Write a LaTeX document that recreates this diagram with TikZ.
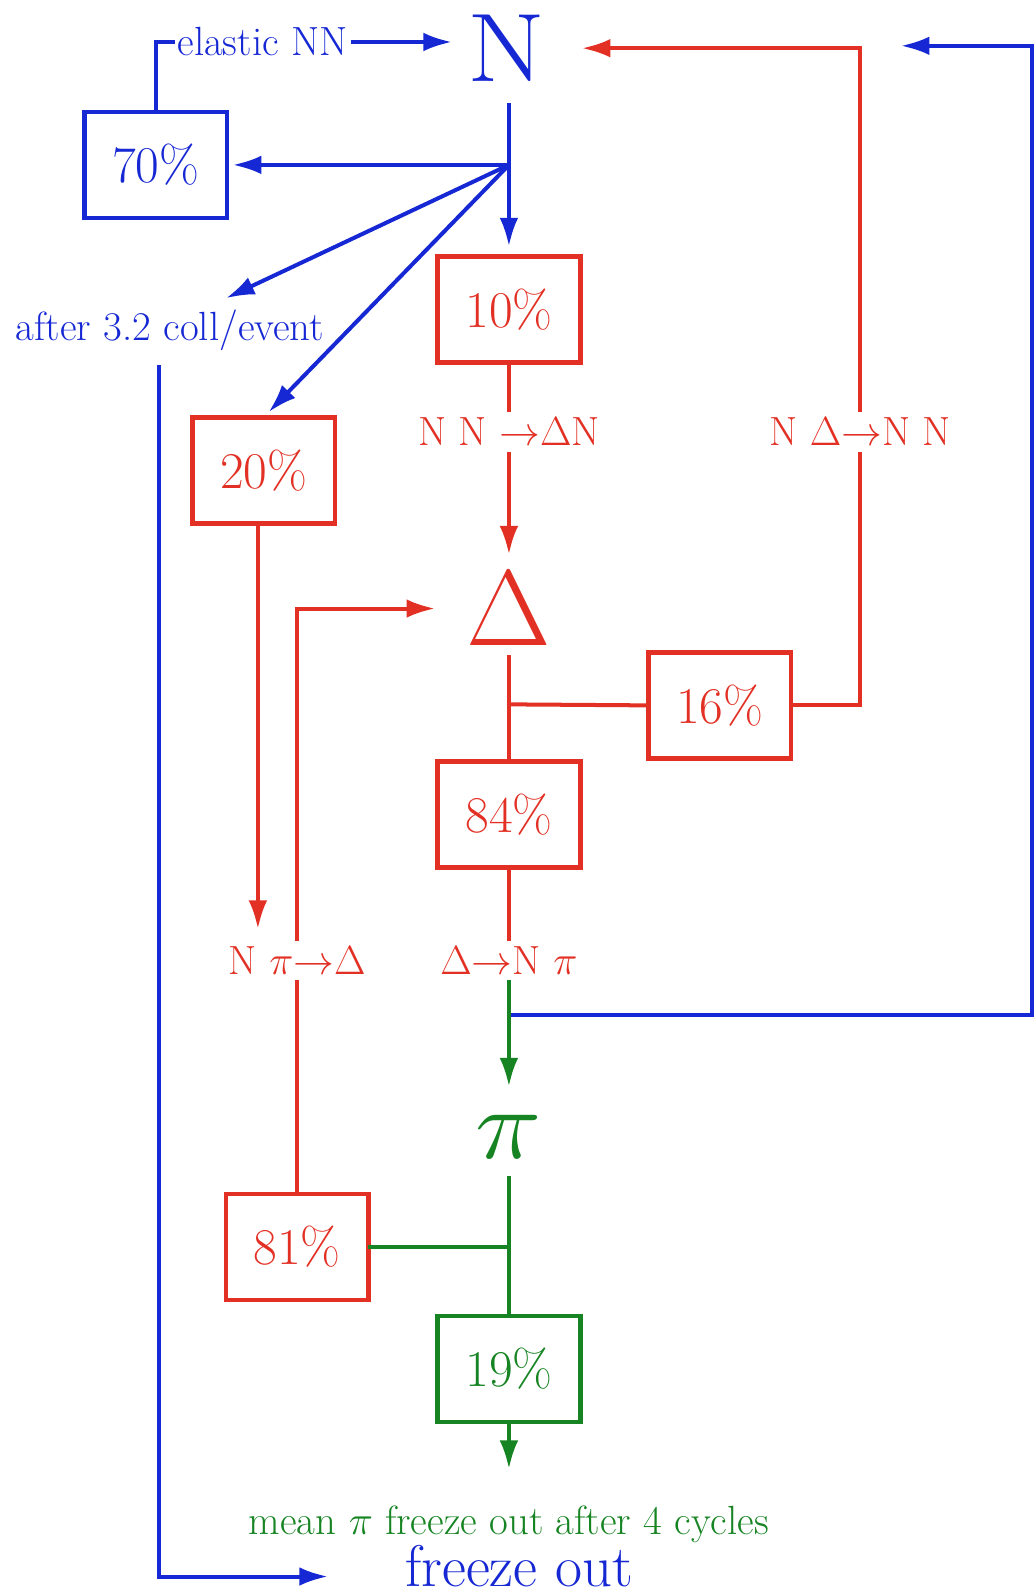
\RequirePackage{fix-cm}
\documentclass[tikz,border=0pt]{standalone}
\usepackage{graphicx}
\usetikzlibrary{arrows.meta}
\definecolor{cb}{RGB}{22,40,212}
\definecolor{cr}{RGB}{226,48,36}
\definecolor{cg}{RGB}{22,132,34}
\newcommand{\bigsymf}{\fontsize{68}{72}\selectfont}
\newcommand{\pif}{\fontsize{70}{74}\selectfont}
\newcommand{\boxf}{\fontsize{36}{40}\selectfont}
\newcommand{\lblf}{\fontsize{28.5}{32}\selectfont}
\newcommand{\fof}{\fontsize{41}{46}\selectfont}
\begin{document}
\begin{tikzpicture}[x=0.025cm,y=-0.025cm,
  every node/.style={inner sep=0pt,outer sep=0pt},
  ln/.style={line width=2.8pt},
  arr/.style={line width=2.8pt,-{Latex[length=20pt,width=13pt]}},
  box/.style={draw,line width=3.2pt,minimum width=99.6pt,minimum height=74pt,font=\boxf},
  lbl/.style={font=\lblf,inner xsep=2pt,inner ysep=4pt,anchor=base},
  bigsym/.style={font=\bigsymf,anchor=base}]
\useasboundingbox (0,0) rectangle (1016,1568);

% symbols
\node[bigsym,text=cb] (N) at (498,80) {\scalebox{1.16}[1]{N}};
\node[bigsym,font=\fontsize{66}{70}\selectfont,text=cr] (D) at (500,634) {\scalebox{1.16}[1.14]{$\Delta$}};
\node[bigsym,font=\pif,text=cg] (P) at (500,1138) {\scalebox{1.12}[1]{$\pi$}};
\node[font=\fof,text=cb,anchor=base] (fo) at (510,1559) {freeze out};

% boxes
\node[box,draw=cb,text=cb] (b70) at (153,162) {70\%};
\node[box,draw=cr,text=cr] (b10) at (500,304) {10\%};
\node[box,draw=cr,text=cr] (b20) at (259,462) {20\%};
\node[box,draw=cr,text=cr] (b16) at (707,693) {16\%};
\node[box,draw=cr,text=cr] (b84) at (500,800) {84\%};
\node[box,draw=cr,text=cr] (b81) at (292,1225) {81\%};
\node[box,draw=cg,text=cg] (b19) at (500,1345) {19\%};

% labels
\node[lbl,text=cb] (el) at (258,55) {elastic NN};
\node[lbl,text=cb] (after) at (167,335) {after 3.2 coll/event};
\node[lbl,text=cr] (nn) at (500,438) {N N ${\rightarrow}\Delta$N};
\node[lbl,text=cr] (nd) at (845,438) {N $\Delta{\rightarrow}$N N};
\node[lbl,text=cr] (npd) at (292,957) {N $\pi{\rightarrow}\Delta$};
\node[lbl,text=cr] (dn) at (500,957) {$\Delta{\rightarrow}$N $\pi$};
\node[lbl,text=cg] (mean) at (500,1508) {mean $\pi$ freeze out after 4 cycles};

% coordinates
\coordinate (s1) at (500,162);
\coordinate (t1) at (222,293);
\coordinate (j2) at (500,692);
\coordinate (j3) at (500,997);
\coordinate (j4) at (500,1225);
\coordinate (rc) at (1013.5,45);
\coordinate (t3) at (885,45);

% blue connectors
\begin{scope}[draw=cb,color=cb]
\draw[ln] (b70.north) |- (el.west);
\draw[arr,shorten >=11pt] (el.east) -- (el.east -| N.west);
\draw[ln,shorten <=15pt] (s1 |- N.south) -- (s1);
\draw[arr,shorten >=4pt] (s1) -- (b70.east);
\draw[arr,shorten >=7pt] (s1) -- (b10.north);
\draw[arr] (s1) -- (t1);
\draw[arr,shorten >=5pt] (s1) -- (b20.north);
\draw[arr,shorten <=6pt,shorten >=54pt] ([xshift=-8pt]after.south) |- ([yshift=-7pt]fo.west);
\draw[arr] (j3) -| (rc) -- (t3);
\end{scope}

% red connectors
\begin{scope}[draw=cr,color=cr]
\draw[ln] (b10.south) -- (b10.south |- nn.north);
\draw[arr,shorten >=12pt] (b10.south |- nn.south) -- (D.north);
\draw[ln,shorten <=7pt] (D.south) -- (b84.north);
\draw[ln] (j2) -- (b16.west);
\draw[ln] (b16.east) -| (nd.south);
\draw[arr,shorten >=25pt] (nd.north) |- (N.east);
\draw[ln] (b84.south) -- (b84.south |- dn.north);
\draw[arr,shorten >=8pt] ([xshift=-4pt]b20.south) -- ([xshift=-4pt]b20.south |- npd.north);
\draw[ln] (b81.north) -- (b81.north |- npd.south);
\draw[arr,shorten >=22pt] (b81.north |- npd.north) |- (D.west);
\end{scope}

% green connectors
\begin{scope}[draw=cg,color=cg]
\draw[arr,shorten >=20pt] (b84.south |- dn.south) -- (P.north);
\draw[ln,shorten <=12pt] (P.south) -- (b19.north);
\draw[ln] (j4) -- (b81.east);
\draw[arr,shorten >=22pt] (b19.south) -- (mean.north);
\end{scope}
\end{tikzpicture}
\end{document}
